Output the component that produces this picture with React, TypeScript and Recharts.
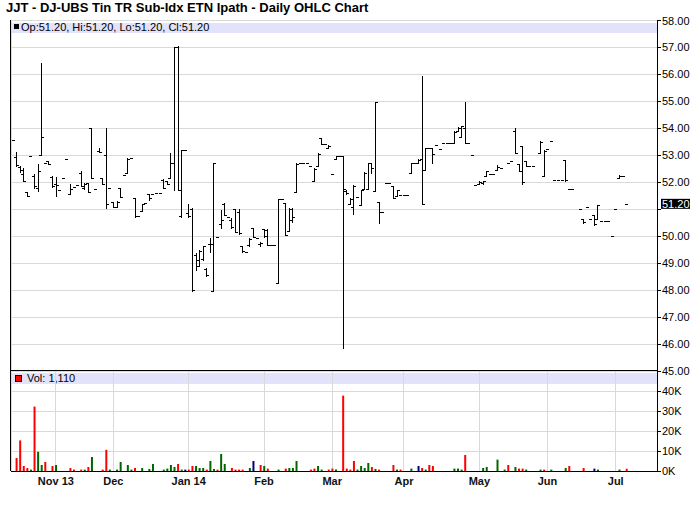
import React from 'react';
import { ComposedChart, Bar, XAxis, YAxis, CartesianGrid, ReferenceLine, Cell } from 'recharts';

const chartTitle = 'JJT - DJ-UBS Tin TR Sub-Idx ETN Ipath - Daily OHLC Chart';

// one entry per traded session, null where no print shows
const opens = [
  53.57, 52.95, 52.58, 52.30, 51.65, 52.96, 52.25, 51.80, 53.00, 52.70,
  52.80, 52.20, 51.92, 51.72, 52.16, 52.88, 51.57, 51.84, 51.90, 52.35,
  51.80, 51.96, 54.00, 51.74, 53.15, 52.15, 53.00, 51.78, 51.25, 51.10,
  51.79, 52.27, 52.33, 52.90, 51.42, 50.74, 50.95, 51.23, 51.55, 51.58,
  51.59, 51.59, 52.10, 52.05, 52.15, 52.70, 57.02, 50.75, 53.20, 50.85,
  51.00, 49.30, 48.90, 49.15, 48.80, 49.70, 47.98, 49.96, 50.45, 51.20,
  50.73, 50.60, 51.00, 50.90, 49.64, 49.42, 49.66, 50.30, 49.92, 49.70,
  50.25, 50.24, 49.67, 49.67, 48.26, 51.37, 51.22, 50.20, 50.60, 51.65,
  52.70, 52.70, 52.70, 52.60, 52.03, 52.62, 53.63, 53.42, 53.28, 52.30,
  52.85, 52.98, 52.98, 51.68, 51.20, 51.10, 51.47, 51.15, 51.75, 51.74,
  52.70, 51.69, 51.26, 50.90, 51.96, 51.96, 51.86, 51.50, 51.52, 51.52,
  51.52, 52.36, 52.73, 52.73, 52.85, 52.45, 53.28, 53.28, 53.40, 53.22,
  53.47, 53.44, 53.44, 53.44, 53.90, 53.67, 54.00, 53.44, 53.00, 51.90,
  51.93, 51.96, 52.23, 52.32, 52.32, 52.45, 52.54, null, 52.72, 52.78,
  53.90, 52.67, 53.34, 52.78, 52.62, 52.62, null, 53.10, 52.25, 53.23,
  53.53, 52.07, 52.07, 52.07, 52.82, 51.76, 51.76, null, 51.00, 50.65,
  51.10, 50.64, 50.77, 50.65, 50.58, 50.58, 50.58, 50.00, 51.00, 52.15,
  52.25, 51.20,
];

const highs = [
  53.57, 53.11, 52.60, 52.54, 51.65, 52.96, 52.30, 52.68, 56.43, 52.70,
  52.80, 52.23, 52.20, 51.72, 52.16, 52.88, 51.94, 51.84, 51.90, 52.40,
  51.96, 51.99, 54.00, 51.74, 53.26, 52.16, 54.00, 51.78, 51.28, 51.30,
  51.79, 52.27, 52.90, 52.90, 51.42, 50.74, 51.20, 51.23, 51.56, 51.58,
  51.59, 51.59, 52.11, 52.05, 53.10, 57.00, 57.05, 53.20, 53.20, 51.20,
  51.04, 49.37, 49.50, 49.64, 48.82, 49.92, 52.72, 49.96, 50.98, 51.22,
  50.73, 50.67, 51.00, 51.00, 49.64, 49.42, 49.92, 50.32, 49.92, 49.77,
  50.26, 50.26, 49.67, 49.67, 51.37, 51.37, 51.22, 51.04, 51.04, 52.70,
  52.70, 52.70, 52.70, 52.60, 52.52, 53.07, 53.63, 53.42, 53.38, 52.30,
  52.98, 52.98, 52.98, 51.70, 51.40, 51.90, 51.47, 51.72, 52.37, 52.73,
  52.73, 54.98, 51.26, 50.90, 51.96, 51.96, 51.86, 51.72, 51.52, 51.52,
  51.52, 52.73, 52.73, 52.85, 55.94, 53.28, 53.28, 53.28, 53.40, 53.22,
  53.47, 53.44, 53.44, 53.91, 54.04, 54.09, 54.98, 53.44, 53.00, 51.90,
  52.05, 52.05, 52.42, 52.32, 52.32, 52.63, 52.54, null, 52.72, 52.78,
  54.00, 52.67, 53.34, 52.78, 52.62, 52.62, null, 53.54, 53.20, 53.23,
  53.53, 52.07, 52.07, 52.07, 52.82, 51.76, 51.76, null, 51.00, 50.65,
  51.10, 50.64, 50.77, 51.17, 50.58, 50.58, 50.58, 50.00, 51.00, 52.27,
  52.25, 51.20,
];

const lows = [
  53.57, 52.60, 52.38, 52.04, 51.50, 52.96, 51.77, 51.69, 53.00, 52.70,
  52.68, 51.84, 51.50, 51.72, 52.16, 52.88, 51.57, 51.84, 51.90, 51.86,
  51.76, 51.64, 52.14, 51.74, 53.13, 51.94, 51.04, 51.78, 51.07, 51.10,
  51.44, 52.27, 52.33, 52.90, 50.73, 50.74, 50.95, 51.23, 51.36, 51.58,
  51.59, 51.59, 51.77, 51.95, 52.15, 51.70, 51.70, 50.72, 53.20, 50.72,
  47.97, 48.75, 48.88, 49.12, 48.53, 49.40, 47.98, 49.96, 50.30, 50.80,
  50.73, 50.30, 50.14, 50.08, 49.43, 49.42, 49.65, 49.96, 49.92, 49.64,
  49.96, 49.67, 49.67, 49.67, 48.26, 51.37, 50.05, 50.20, 50.54, 51.64,
  52.70, 52.70, 52.70, 52.60, 52.03, 52.60, 53.42, 53.42, 53.28, 52.30,
  52.85, 52.98, 45.85, 51.58, 51.20, 50.83, 51.47, 51.14, 51.75, 51.74,
  52.33, 51.69, 50.50, 50.90, 51.96, 51.96, 51.40, 51.50, 51.52, 51.52,
  51.52, 52.36, 52.73, 52.73, 51.19, 52.45, 53.28, 52.70, 53.40, 53.22,
  53.47, 53.44, 53.44, 53.44, 53.90, 53.67, 53.44, 53.44, 53.00, 51.90,
  51.93, 51.95, 52.23, 52.32, 52.32, 52.45, 52.54, null, 52.72, 52.78,
  53.07, 52.42, 51.95, 52.62, 52.62, 52.62, null, 53.10, 52.22, 53.23,
  53.53, 52.07, 52.07, 52.07, 52.05, 51.76, 51.76, null, 51.00, 50.50,
  51.10, 50.64, 50.42, 50.64, 50.58, 50.58, 50.58, 50.00, 51.00, 52.15,
  52.25, 51.20,
];

const closes = [
  53.57, 52.63, 52.45, 52.05, 51.50, 52.96, 51.85, 52.40, 53.69, 52.70,
  52.68, 51.85, 51.90, 51.72, 52.16, 52.88, 51.75, 51.84, 51.90, 51.88,
  51.92, 51.65, 52.14, 51.74, 53.13, 51.95, 51.20, 51.78, 51.10, 51.25,
  51.45, 52.27, 52.88, 52.90, 50.75, 50.74, 51.18, 51.23, 51.40, 51.58,
  51.59, 51.59, 51.80, 51.95, 52.70, 57.00, 51.72, 53.20, 53.20, 50.75,
  48.00, 49.10, 49.45, 49.62, 48.55, 49.72, 52.72, 49.96, 50.60, 50.80,
  50.73, 50.35, 50.15, 50.10, 49.45, 49.42, 49.90, 49.96, 49.92, 49.76,
  50.00, 49.68, 49.67, 49.67, 51.37, 51.37, 50.06, 51.00, 50.70, 52.68,
  52.70, 52.70, 52.70, 52.60, 52.50, 53.06, 53.42, 53.42, 53.35, 52.30,
  52.97, 52.98, 51.75, 51.62, 51.38, 51.85, 51.47, 51.70, 52.35, 52.72,
  52.52, 54.98, 50.90, 50.90, 51.96, 51.96, 51.42, 51.70, 51.52, 51.52,
  51.52, 52.72, 52.73, 52.82, 51.20, 53.28, 53.28, 53.04, 53.40, 53.22,
  53.47, 53.44, 53.44, 53.88, 54.02, 54.08, 53.44, 53.44, 53.00, 51.90,
  52.00, 52.05, 52.40, 52.32, 52.32, 52.55, 52.54, null, 52.72, 52.78,
  53.07, 52.42, 52.00, 52.62, 52.62, 52.62, null, 53.50, 53.17, 53.23,
  53.53, 52.07, 52.07, 52.07, 52.07, 51.76, 51.76, null, 51.00, 50.52,
  51.10, 50.64, 50.45, 51.15, 50.58, 50.58, 50.58, 50.00, 51.00, 52.25,
  52.25, 51.20,
];

const volumes = [
  0, 6500, 15300, 2500, 1500, 700, 32200, 9600, 3000, 4500,
  0, 2500, 3000, 0, 0, 0, 1500, 700, 0, 700,
  700, 2000, 7000, 0, 0, 700, 10600, 700, 0, 700,
  4500, 0, 3000, 700, 1500, 0, 1500, 0, 1000, 3500,
  0, 0, 700, 1200, 3000, 2000, 3500, 700, 700, 700,
  2500, 2500, 1500, 1500, 700, 5000, 1000, 700, 8500, 3500,
  0, 1500, 700, 700, 700, 0, 1500, 5000, 0, 3000,
  2500, 1200, 0, 0, 700, 0, 1200, 1500, 1500, 5000,
  0, 0, 0, 700, 1200, 2500, 700, 0, 700, 1200,
  700, 0, 37700, 1200, 700, 5000, 700, 2500, 1500, 4000,
  2000, 1000, 700, 0, 0, 0, 3000, 700, 700, 0,
  0, 1200, 0, 2500, 1500, 700, 3000, 2500, 0, 0,
  0, 0, 0, 1200, 1200, 700, 8000, 0, 0, 0,
  0, 1500, 2000, 0, 0, 5700, 0, 700, 3000, 0,
  2000, 1200, 1200, 700, 0, 0, 0, 700, 700, 0,
  700, 0, 0, 0, 1500, 2500, 0, 0, 0, 1500,
  0, 0, 1200, 700, 0, 0, 0, 0, 0, 700,
  0, 1110,
];

// u = up day, d = down day, n = unchanged, . = no volume bar
const volumeTone = (
  '.dddduduud .du...dd.d udu..ddu.u u.uud.u.uu ..uuuudund ' +
  'duuuduuduu .dddd.un.d ud..u.duuu ...dduu.dd u.dddduuuu ' +
  'dud...dud. .u.ndudd.. ...uuud... .uu..u.ud. uddu...ud. ' +
  'u...ud...d ..nu.....u .d'
).replace(/ /g, '');

const monthSlots = [12, 28, 49, 70, 89, 109, 130, 149, 168];
const monthLabels = ['Nov 13', 'Dec', 'Jan 14', 'Feb', 'Mar', 'Apr', 'May', 'Jun', 'Jul'];
const priceTicks = [58, 57, 56, 55, 54, 53, 52, 51, 50, 49, 48, 47, 46, 45];
const volumeTicks = [0, 10000, 20000, 30000, 40000];
const totalSlots = 180;

const FONT = '"Liberation Sans", Arial, Helvetica, sans-serif';
const GRID = '#d9d9d9';
const STRIP = '#e2e2fb';
const toneColor: Record<string, string> = { u: '#006600', d: '#ff0000', n: '#000080' };

const rows = Array.from({ length: totalSlots }, (_, i) => {
  const h = highs[i];
  return {
    slot: i,
    open: opens[i] ?? null,
    high: h ?? null,
    low: lows[i] ?? null,
    close: closes[i] ?? null,
    range: h == null ? null : [lows[i], h],
    volume: volumes[i] ?? 0,
    tone: volumeTone[i] ?? '.',
  };
});

const lastIdx = closes.length - 1;
const lastClose = closes[lastIdx] as number;
const fmt2 = (v: number | null) => (v == null ? '' : v.toFixed(2));
const ohlcText = `Op:${fmt2(opens[lastIdx])}, Hi:${fmt2(highs[lastIdx])}, Lo:${fmt2(lows[lastIdx])}, Cl:${fmt2(closes[lastIdx])}`;
const volText = `Vol: ${volumes[lastIdx].toLocaleString('en-US')}`;

function OhlcMark(props: any) {
  const { x, y, width, height, payload } = props;
  if (!payload || payload.high == null || !Number.isFinite(y)) return null;
  const top = Math.min(y, y + height);
  const bottom = Math.max(y, y + height);
  const span = payload.high - payload.low;
  const toY = (v: number) => (span > 0 ? top + ((payload.high - v) / span) * (bottom - top) : top);
  const px = Math.floor(x + width / 2);
  const yTop = Math.round(top);
  const yBot = Math.round(bottom);
  if (span <= 0) {
    return <rect x={px - 1} y={yTop} width={3} height={1} fill="#000" shapeRendering="crispEdges" />;
  }
  const yo = Math.round(toY(payload.open));
  const yc = Math.round(toY(payload.close));
  return (
    <g fill="#000" shapeRendering="crispEdges">
      <rect x={px} y={yTop} width={1} height={Math.max(1, yBot - yTop + 1)} />
      <rect x={px - 2} y={yo} width={2} height={1} />
      <rect x={px + 1} y={yc} width={2} height={1} />
    </g>
  );
}

function PriceTick(props: any) {
  const { x, y, payload } = props;
  // the last-price tag sits over this label
  if (Math.abs(payload.value - lastClose) < 0.5) return null;
  return (
    <text x={x} y={y} dy={4} fontSize={11} fill="#000" fontFamily={FONT}>
      {payload.value.toFixed(2)}
    </text>
  );
}

function LastTag(props: any) {
  const vb = props.viewBox || {};
  const left = vb.x + vb.width + 4;
  const cy = vb.y;
  return (
    <g>
      <rect x={left} y={cy - 5} width={29} height={10} fill="#000" />
      <text x={left + 1} y={cy + 4} fontSize={11} fill="#fff" fontFamily={FONT}>
        {lastClose.toFixed(2)}
      </text>
    </g>
  );
}

export default function App() {
  return (
    <div style={{ position: 'absolute', left: 0, top: 0, width: 700, height: 512, background: '#fff', fontFamily: FONT }}>
      <style>{`.recharts-cartesian-grid line, .recharts-cartesian-axis-line, .recharts-cartesian-axis-tick-line { shape-rendering: crispEdges; }`}</style>
      <div style={{ position: 'absolute', left: 6, top: 0, fontSize: 13, lineHeight: '15px', fontWeight: 'bold', color: '#000', whiteSpace: 'nowrap' }}>
        {chartTitle}
      </div>

      {/* legend strips sit under the grid */}
      <div style={{ position: 'absolute', left: 12, top: 23, width: 645, height: 10, background: STRIP }} />
      <div style={{ position: 'absolute', left: 14, top: 24, width: 5, height: 5, background: '#000' }} />
      <div style={{ position: 'absolute', left: 21, top: 22, fontSize: 11, lineHeight: '11px', color: '#000', whiteSpace: 'nowrap' }}>
        {ohlcText}
      </div>
      <div style={{ position: 'absolute', left: 12, top: 373, width: 645, height: 11, background: STRIP }} />
      <div style={{ position: 'absolute', left: 15, top: 375, width: 5, height: 5, background: '#ff0000', border: '1px solid #000' }} />
      <div style={{ position: 'absolute', left: 27, top: 373, fontSize: 11, lineHeight: '11px', color: '#000', whiteSpace: 'nowrap' }}>
        {volText}
      </div>
      <div style={{ position: 'absolute', left: 10, top: 20, width: 1, height: 451, background: '#000' }} />

      <div style={{ position: 'absolute', left: 0, top: 0 }}>
        <ComposedChart width={700} height={380} data={rows} margin={{ top: 20.5, right: 0, bottom: 0, left: 11 }} barCategoryGap={0}>
          <CartesianGrid stroke={GRID} vertical horizontal />
          <XAxis
            dataKey="slot"
            type="category"
            ticks={monthSlots}
            interval={0}
            tick={false}
            tickLine={false}
            height={9}
            axisLine={{ stroke: '#000', strokeWidth: 2 }}
          />
          <YAxis
            orientation="right"
            width={43}
            domain={[45, 58]}
            allowDataOverflow
            ticks={priceTicks}
            interval={0}
            tickSize={4}
            tickMargin={1}
            tick={<PriceTick />}
            axisLine={{ stroke: '#000' }}
            tickLine={{ stroke: '#000' }}
          />
          <Bar dataKey="range" shape={<OhlcMark />} isAnimationActive={false} />
          <ReferenceLine y={lastClose} stroke="none" label={(p: any) => <LastTag {...p} />} />
        </ComposedChart>
      </div>

      <div style={{ position: 'absolute', left: 0, top: 0 }}>
        <ComposedChart width={700} height={512} data={rows} margin={{ top: 371, right: 0, bottom: 0, left: 11 }}>
          <CartesianGrid stroke={GRID} vertical horizontal />
          <XAxis
            dataKey="slot"
            type="category"
            ticks={monthSlots}
            interval={0}
            height={41}
            tickLine={false}
            tickSize={6}
            tickMargin={0}
            axisLine={{ stroke: '#000' }}
            tickFormatter={(v: number) => monthLabels[monthSlots.indexOf(v)] ?? ''}
            tick={{ fontSize: 11, fontWeight: 'bold', fill: '#111', fontFamily: FONT }}
          />
          <YAxis
            orientation="right"
            width={43}
            domain={[0, 50000]}
            allowDataOverflow
            ticks={volumeTicks}
            interval={0}
            tickSize={4}
            tickMargin={1}
            tickFormatter={(v: number) => `${v / 1000}K`}
            tick={{ fontSize: 11, fill: '#000', fontFamily: FONT, textAnchor: 'start' }}
            axisLine={{ stroke: '#000' }}
            tickLine={{ stroke: '#000' }}
          />
          <Bar dataKey="volume" barSize={2} isAnimationActive={false}>
            {rows.map((r) => (
              <Cell key={r.slot} fill={toneColor[r.tone] || '#ff0000'} />
            ))}
          </Bar>
        </ComposedChart>
      </div>
    </div>
  );
}
